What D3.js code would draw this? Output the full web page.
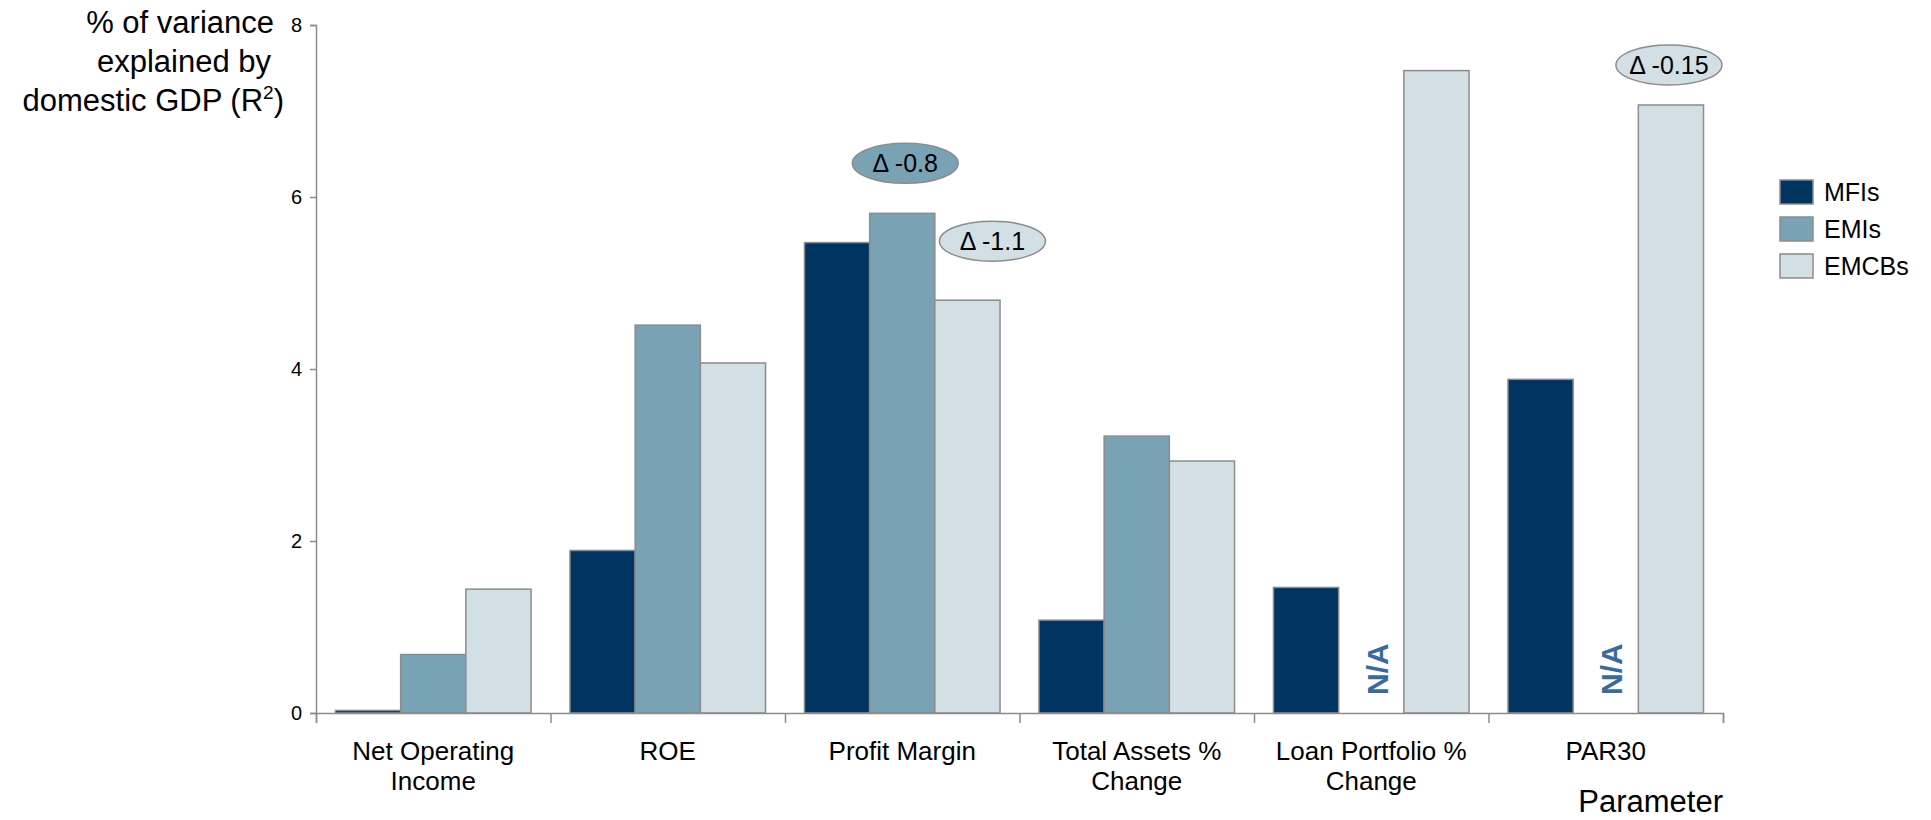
<!DOCTYPE html>
<html>
<head>
<meta charset="utf-8">
<script src="https://cdn.jsdelivr.net/npm/d3@7"></script>
<style>
  body { margin: 0; background: #fff; }
  text { font-family: "Liberation Sans", Arial, sans-serif; fill: #000; }
</style>
</head>
<body>
<div id="container"></div>
<script>
/* DATA */
const categories = [["Net Operating", "Income"], ["ROE"], ["Profit Margin"], ["Total Assets %", "Change"], ["Loan Portfolio %", "Change"], ["PAR30"]];
const seriesNames = ["MFIs", "EMIs", "EMCBs"];
const mfis = [0.03, 1.89, 5.47, 1.08, 1.46, 3.88];
const emis = [0.68, 4.51, 5.81, 3.22, null, null];
const emcbs = [1.44, 4.07, 4.80, 2.93, 7.47, 7.07];
const yTicks = [0, 2, 4, 6, 8];
// annotations: [category index, series index, label]
const notes = [[2, 1, "Δ -0.8"], [2, 2, "Δ -1.1"], [5, 2, "Δ -0.15"]];

const colors = ["#023462", "#79a3b5", "#d2dfe5"];
const stroke = "#8c8c8c";

/* CONSTANTS */
const width = 1931, height = 820;
const margin = { top: 25, left: 316, right: 208, bottom: 107 };

const svg = d3.select("#container").append("svg")
  .attr("width", width).attr("height", height);

// SCALES
const x0 = d3.scaleBand()
  .domain(d3.range(categories.length))
  .range([margin.left, width - margin.right])
  .paddingInner(0.166).paddingOuter(0.083);

const x1 = d3.scaleBand()
  .domain(d3.range(seriesNames.length))
  .range([0, x0.bandwidth()]);

const y = d3.scaleLinear()
  .domain([0, 8])
  .range([height - margin.bottom, margin.top]);

const step = x0.step();
const catLeft = i => margin.left + i * step;

// BARS
const series = [mfis, emis, emcbs];
series.forEach((vals, s) => {
  svg.append("g").selectAll("rect")
    .data(vals.map((v, i) => ({ v, i })).filter(d => d.v !== null))
    .join("rect")
    .attr("x", d => x0(d.i) + x1(s))
    .attr("width", x1.bandwidth())
    .attr("y", d => y(d.v))
    .attr("height", d => y(0) - y(d.v))
    .attr("fill", colors[s])
    .attr("stroke", stroke)
    .attr("stroke-width", 1.5);
});

// N/A labels
emis.forEach((v, i) => {
  if (v !== null) return;
  const cx = x0(i) + x1(1) + x1.bandwidth() / 2 + 6;
  svg.append("text")
    .attr("transform", `translate(${cx}, ${y(0) - 18}) rotate(-90)`)
    .attr("font-size", 30).attr("font-weight", "bold")
    .style("fill", "#3a6a9c")
    .attr("dominant-baseline", "central")
    .text("N/A");
});

// AXES
const yAxis = svg.append("g")
  .attr("transform", `translate(${margin.left}, 0)`)
  .call(d3.axisLeft(y).tickValues(yTicks).tickSize(6).tickPadding(8));
yAxis.selectAll("text").attr("font-size", 20).style("font-family", "Liberation Sans, Arial, sans-serif");

const xAxisScale = d3.scaleLinear().domain([0, categories.length]).range([margin.left, width - margin.right]);
svg.append("g")
  .attr("transform", `translate(0, ${y(0)})`)
  .call(d3.axisBottom(xAxisScale).ticks(categories.length).tickSize(10).tickFormat(""));

svg.selectAll(".domain, .tick line").attr("stroke", stroke).attr("stroke-width", 1.5);

// category labels
categories.forEach((lines, i) => {
  const t = svg.append("text")
    .attr("x", catLeft(i) + step / 2)
    .attr("y", y(0) + 47)
    .attr("text-anchor", "middle")
    .attr("font-size", 26);
  lines.forEach((l, k) => t.append("tspan")
    .attr("x", catLeft(i) + step / 2)
    .attr("dy", k === 0 ? 0 : 30)
    .text(l));
});

// axis titles
const yTitle = svg.append("text").attr("text-anchor", "end").attr("font-size", 31);
yTitle.append("tspan").attr("x", 274).attr("y", 33).text("% of variance");
yTitle.append("tspan").attr("x", 271).attr("y", 72).text("explained by");
const l3 = yTitle.append("tspan").attr("x", 284).attr("y", 111).text("domestic GDP (R");
l3.append("tspan").attr("font-size", 19).attr("dy", -12).text("2");
l3.append("tspan").attr("dy", 12).text(")");

svg.append("text")
  .attr("x", width - margin.right).attr("y", 812)
  .attr("text-anchor", "end").attr("font-size", 31)
  .text("Parameter");

// ANNOTATIONS
const noteOffsets = [[3, -50], [25, -59], [-2, -40]];
notes.forEach(([ci, si, label], k) => {
  const vals = series[si];
  const cx = x0(ci) + x1(si) + x1.bandwidth() / 2 + noteOffsets[k][0];
  const cy = y(vals[ci]) + noteOffsets[k][1];
  svg.append("ellipse")
    .attr("cx", cx).attr("cy", cy).attr("rx", 53).attr("ry", 20)
    .attr("fill", colors[si]).attr("stroke", stroke).attr("stroke-width", 1.5);
  svg.append("text")
    .attr("x", cx).attr("y", cy)
    .attr("text-anchor", "middle").attr("dominant-baseline", "central")
    .attr("font-size", 25)
    .text(label);
});

// LEGEND
const legend = svg.append("g").attr("transform", "translate(1780, 180)");
seriesNames.forEach((name, i) => {
  legend.append("rect")
    .attr("x", 0).attr("y", i * 37)
    .attr("width", 33).attr("height", 24)
    .attr("fill", colors[i]).attr("stroke", stroke).attr("stroke-width", 1.5);
  legend.append("text")
    .attr("x", 44).attr("y", i * 37 + 12)
    .attr("dominant-baseline", "central")
    .attr("font-size", 25)
    .text(name);
});
</script>
</body>
</html>
